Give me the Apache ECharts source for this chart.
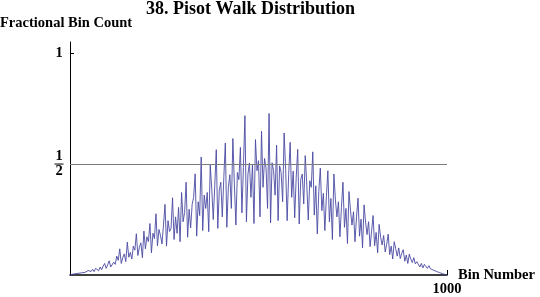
<!DOCTYPE html>
<html>
<head>
<meta charset="utf-8">
<script src="https://cdn.jsdelivr.net/npm/echarts@6/dist/echarts.min.js"></script>
<style>html,body{margin:0;padding:0;background:#fff}#c{width:540px;height:297px}</style>
</head>
<body>
<div id="c"></div>
<script>
var titleText = '38. Pisot Walk Distribution';
var yAxisTitle = 'Fractional Bin Count';
var xAxisTitle = 'Bin Number';
var binStep = 4;
var binCounts = [
  0, 0.002, 0.004, 0.002, 0.006, 0.004, 0.008, 0.005, 0.010, 0.007,
  0.012, 0.009, 0.020, 0.013, 0.016, 0.026, 0.015, 0.030, 0.022, 0.019,
  0.036, 0.024, 0.040, 0.052, 0.030, 0.046, 0.064, 0.036, 0.044, 0.058,
  0.048, 0.085, 0.066, 0.118, 0.052, 0.078, 0.095, 0.060, 0.148, 0.080,
  0.102, 0.072, 0.130, 0.112, 0.186, 0.088, 0.125, 0.145, 0.078, 0.198,
  0.118, 0.172, 0.150, 0.232, 0.100, 0.188, 0.164, 0.276, 0.132, 0.205,
  0.178, 0.140, 0.226, 0.318, 0.130, 0.245, 0.196, 0.210, 0.348, 0.160,
  0.262, 0.188, 0.305, 0.150, 0.372, 0.240, 0.282, 0.418, 0.170, 0.296,
  0.212, 0.318, 0.350, 0.456, 0.175, 0.330, 0.268, 0.532, 0.200, 0.360,
  0.300, 0.372, 0.195, 0.495, 0.388, 0.250, 0.404, 0.565, 0.210, 0.382,
  0.418, 0.262, 0.440, 0.595, 0.215, 0.395, 0.452, 0.300, 0.615, 0.410,
  0.225, 0.462, 0.430, 0.575, 0.280, 0.485, 0.718, 0.240, 0.455, 0.505,
  0.350, 0.498, 0.232, 0.610, 0.470, 0.515, 0.262, 0.648, 0.395, 0.525,
  0.482, 0.300, 0.728, 0.235, 0.506, 0.470, 0.360, 0.585, 0.245, 0.492,
  0.462, 0.330, 0.640, 0.476, 0.245, 0.452, 0.598, 0.350, 0.468, 0.258,
  0.440, 0.566, 0.230, 0.430, 0.455, 0.320, 0.538, 0.410, 0.248, 0.425,
  0.395, 0.555, 0.270, 0.402, 0.185, 0.378, 0.482, 0.290, 0.368, 0.200,
  0.352, 0.470, 0.240, 0.345, 0.160, 0.455, 0.338, 0.262, 0.330, 0.172,
  0.305, 0.418, 0.215, 0.300, 0.142, 0.376, 0.292, 0.225, 0.285, 0.150,
  0.262, 0.346, 0.175, 0.252, 0.122, 0.316, 0.238, 0.182, 0.240, 0.128,
  0.198, 0.268, 0.132, 0.192, 0.100, 0.228, 0.170, 0.135, 0.178, 0.104,
  0.138, 0.184, 0.092, 0.130, 0.072, 0.150, 0.118, 0.085, 0.122, 0.074,
  0.098, 0.114, 0.062, 0.090, 0.052, 0.094, 0.072, 0.056, 0.078, 0.050,
  0.060, 0.066, 0.036, 0.052, 0.032, 0.048, 0.040, 0.030, 0.042, 0.028,
  0.030, 0.022, 0.025, 0.016, 0.018, 0.011, 0.010, 0.006, 0.005, 0.002,
  0
];
var yTickValues = [0.5, 1];
var xTickValues = [1000];
var halfLine = 0.5;

var seriesData = binCounts.map(function (v, i) { return [i * binStep, v]; });
var serif = '"Liberation Serif", "DejaVu Serif", serif';

var chart = echarts.init(document.getElementById('c'), null, {renderer: 'canvas'});
chart.setOption({
  animation: false,
  backgroundColor: '#ffffff',
  title: [
    {text: titleText, left: 146, top: 0, padding: 0,
     textStyle: {fontFamily: serif, fontWeight: 'bold', fontSize: 18, color: '#000'}},
    {text: yAxisTitle, left: 0, top: 16, padding: 0,
     textStyle: {fontFamily: serif, fontWeight: 'bold', fontSize: 14.5, color: '#000'}}
  ],
  grid: {left: 70, right: 93, top: 42, bottom: 22, containLabel: false, outerBoundsMode: 'none'},
  xAxis: {
    type: 'value', min: 0, max: 1000,
    name: xAxisTitle, nameLocation: 'end', nameGap: 11, nameMoveOverlap: false,
    nameTextStyle: {fontFamily: serif, fontWeight: 'bold', fontSize: 14.5, color: '#000', verticalAlign: 'middle'},
    axisLine: {onZero: false, lineStyle: {color: '#000', width: 1.5}},
    axisTick: {show: true, inside: true, length: 5, customValues: xTickValues, lineStyle: {color: '#000', width: 1}},
    axisLabel: {customValues: xTickValues, margin: 7, fontFamily: serif, fontWeight: 'bold', fontSize: 14.5, color: '#000',
      formatter: function (v) { return String(v); }},
    splitLine: {show: false}
  },
  yAxis: {
    type: 'value', min: 0, max: 1.05,
    axisLine: {show: true, lineStyle: {color: '#000', width: 1}},
    axisTick: {show: true, inside: true, length: 4, customValues: yTickValues, lineStyle: {color: '#000', width: 1}},
    axisLabel: {
      customValues: yTickValues, margin: 11, align: 'center',
      fontFamily: serif, fontWeight: 'bold', fontSize: 14.5, color: '#000',
      formatter: function (v) {
        if (v === 0.5) return '{n|1}\n{b| }\n{n|2}';
        return '{n|1}';
      },
      rich: {
        n: {fontFamily: serif, fontWeight: 'bold', fontSize: 14.5, lineHeight: 11, color: '#000', align: 'center'},
        b: {fontSize: 1, lineHeight: 4, width: 9, height: 1, backgroundColor: '#000', align: 'center'}
      }
    },
    splitLine: {show: false}
  },
  series: [{
    type: 'line', data: seriesData, showSymbol: false, symbol: 'none',
    lineStyle: {color: '#4a4aa3', width: 0.9},
    markLine: {
      silent: true, symbol: 'none', label: {show: false},
      lineStyle: {color: '#7a7a7a', width: 1, type: 'solid'},
      data: [{yAxis: halfLine}]
    },
    z: 2
  }]
});
</script>
</body>
</html>
